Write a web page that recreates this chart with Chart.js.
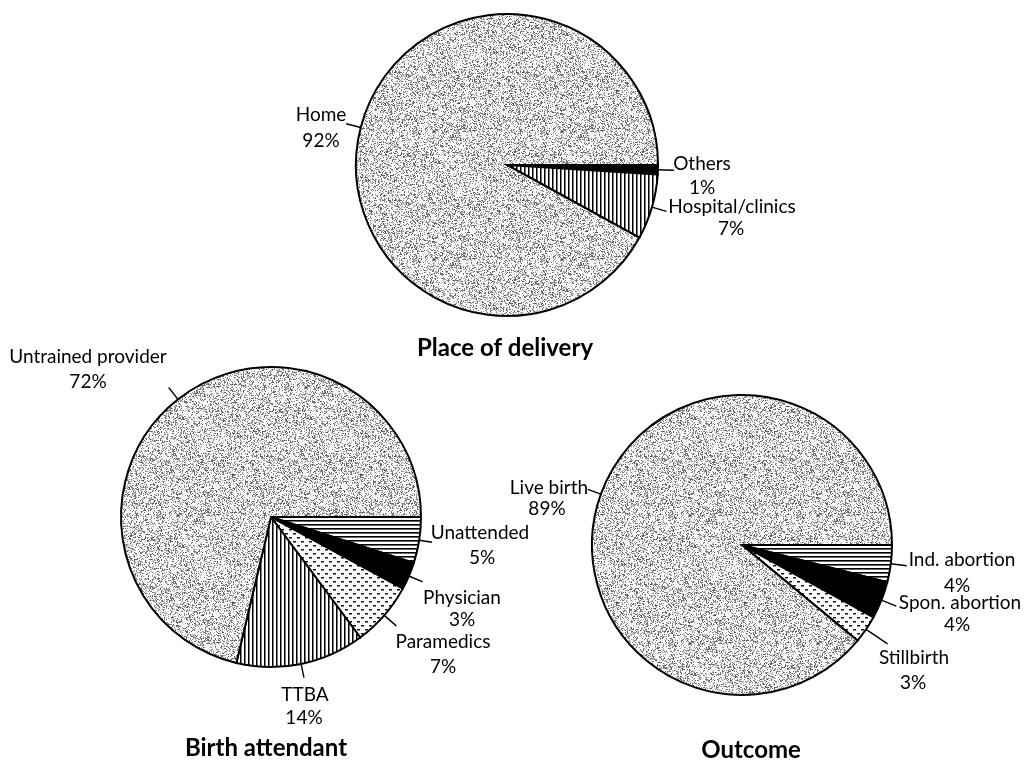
<!DOCTYPE html>
<html lang="en">
<head>
  <meta charset="UTF-8">
  <title>Place of delivery, birth attendant and outcome</title>
  <style>
    body {
      margin: 0;
      background: #fff;
    }

    #board {
      position: relative;
      width: 1027px;
      height: 764px;
    }

    #board canvas {
      position: absolute;
      left: 0;
      top: 0;
    }
  </style>
</head>
<body>

  <div id="board">
    <canvas id="deliveryChart" width="1027" height="764"></canvas>
    <canvas id="attendantChart" width="1027" height="764"></canvas>
    <canvas id="outcomeChart" width="1027" height="764"></canvas>
  </div>

  <script src="https://cdn.jsdelivr.net/npm/chart.js"></script>

  <script>
    // Data (slices listed clockwise from 3 o'clock)
    const deliveryLabels = ['Others', 'Hospital/clinics', 'Home'];
    const deliveryValues = [1, 7, 92];

    const attendantLabels = ['Unattended', 'Physician', 'Paramedics', 'TTBA', 'Untrained provider'];
    const attendantValues = [5, 3, 7, 14, 72];

    const outcomeLabels = ['Ind. abortion', 'Spon. abortion', 'Stillbirth', 'Live birth'];
    const outcomeValues = [4, 4, 3, 89];

    const W = 1027, H = 764;
    const LABEL_FONT = '19px Lato, "Open Sans", sans-serif';
    const TITLE_FONT = 'bold 24px Lato, "Open Sans", sans-serif';

    // --- fill patterns, like the old black & white print ---
    function hash(x, y, s) {
      let h = (x * 374761393 + y * 668265263 + s * 982451653) | 0;
      h = Math.imul(h ^ (h >>> 13), 1274126177);
      h ^= h >>> 16;
      return (h >>> 0) / 4294967296;
    }

    function stipple() {
      const size = 128;
      const c = document.createElement('canvas');
      c.width = c.height = size;
      const g = c.getContext('2d');
      const img = g.createImageData(size, size);
      for (let y = 0; y < size; y++) {
        for (let x = 0; x < size; x++) {
          const k = (y * size + x) * 4;
          let v = 248;
          if (hash(x, y, 1) < 0.34) v = 80 + Math.floor(hash(x, y, 2) * 100);
          img.data[k] = img.data[k + 1] = img.data[k + 2] = v;
          img.data[k + 3] = 255;
        }
      }
      g.putImageData(img, 0, 0);
      return g.createPattern(c, 'repeat');
    }

    function tile(w, h, draw) {
      const c = document.createElement('canvas');
      c.width = w;
      c.height = h;
      const g = c.getContext('2d');
      g.fillStyle = '#fff';
      g.fillRect(0, 0, w, h);
      draw(g);
      return g.createPattern(c, 'repeat');
    }

    const grayFill = stipple();
    const vLines = tile(4, 4, g => {
      g.fillStyle = '#000'; g.fillRect(0, 0, 1, 4);
      g.fillStyle = '#777'; g.fillRect(1, 0, 1, 4);
    });
    const hLines = tile(4, 4, g => {
      g.fillStyle = '#000'; g.fillRect(0, 0, 4, 1);
      g.fillStyle = '#666'; g.fillRect(0, 1, 4, 1);
    });
    const dashes = tile(8, 8, g => {
      g.fillStyle = '#111';
      g.fillRect(1, 1, 3, 1);
      g.fillRect(5, 5, 3, 1);
      g.fillStyle = '#888';
      g.fillRect(1, 2, 3, 1);
      g.fillRect(5, 6, 3, 1);
    });

    // Leader lines (radial, from the middle of each slice) and label text
    const pieLabels = {
      id: 'pieLabels',
      afterDatasetsDraw(chart, args, opts) {
        const ctx = chart.ctx;
        const meta = chart.getDatasetMeta(0);
        const labels = chart.data.labels;
        const values = chart.data.datasets[0].data;
        ctx.save();
        ctx.strokeStyle = '#000';
        ctx.lineWidth = 1.4;
        ctx.fillStyle = '#000';
        ctx.font = LABEL_FONT;
        ctx.textAlign = 'center';
        ctx.textBaseline = 'middle';
        meta.data.forEach((arc, i) => {
          const s = opts.spots[i];
          const { x, y, startAngle, endAngle, outerRadius } =
            arc.getProps(['x', 'y', 'startAngle', 'endAngle', 'outerRadius'], true);
          const mid = (startAngle + endAngle) / 2;
          const r2 = outerRadius + s.lead;
          ctx.beginPath();
          ctx.moveTo(x + Math.cos(mid) * outerRadius, y + Math.sin(mid) * outerRadius);
          ctx.lineTo(x + Math.cos(mid) * r2, y + Math.sin(mid) * r2);
          ctx.stroke();
          ctx.fillText(labels[i], s.name[0], s.name[1]);
          ctx.fillText(values[i] + '%', s.pct[0], s.pct[1]);
        });
        ctx.font = TITLE_FONT;
        ctx.fillText(opts.title, opts.titleAt[0], opts.titleAt[1]);
        ctx.restore();
      }
    };

    function makePie(id, labels, values, fills, cx, cy, r, labelOpts) {
      return new Chart(document.getElementById(id), {
        type: 'pie',
        data: {
          labels: labels,
          datasets: [{
            data: values,
            backgroundColor: fills,
            borderColor: '#000',
            borderWidth: 2,
            borderJoinStyle: 'miter'
          }]
        },
        options: {
          responsive: false,
          animation: false,
          events: [],
          rotation: 90,
          radius: r,
          layout: {
            padding: { left: cx - r, right: W - cx - r, top: cy - r, bottom: H - cy - r }
          },
          plugins: {
            legend: { display: false },
            tooltip: { enabled: false },
            pieLabels: labelOpts
          }
        },
        plugins: [pieLabels]
      });
    }

    makePie('deliveryChart', deliveryLabels, deliveryValues,
      ['#000', vLines, grayFill], 507, 165, 151, {
        title: 'Place of delivery',
        titleAt: [505, 348],
        spots: [
          { lead: 16, name: [702, 164], pct: [702, 188] },
          { lead: 15, name: [732, 207], pct: [731, 229] },
          { lead: 15, name: [321, 115], pct: [321, 141] }
        ]
      });

    makePie('attendantChart', attendantLabels, attendantValues,
      [hLines, '#000', dashes, vLines, grayFill], 271, 517, 150, {
        title: 'Birth attendant',
        titleAt: [266, 748],
        spots: [
          { lead: 13, name: [480, 533], pct: [482, 558] },
          { lead: 15, name: [462, 598], pct: [462, 620] },
          { lead: 16, name: [443, 642], pct: [443, 667] },
          { lead: 14, name: [305, 695], pct: [304, 718] },
          { lead: 15, name: [88, 357], pct: [88, 382] }
        ]
      });

    makePie('outcomeChart', outcomeLabels, outcomeValues,
      [hLines, '#000', dashes, grayFill], 742, 545, 150, {
        title: 'Outcome',
        titleAt: [751, 750],
        spots: [
          { lead: 16, name: [962, 560], pct: [957, 586] },
          { lead: 16, name: [960, 603], pct: [957, 625] },
          { lead: 26, name: [914, 658], pct: [913, 683] },
          { lead: 14, name: [549, 488], pct: [547, 509] }
        ]
      });
  </script>

</body>
</html>
